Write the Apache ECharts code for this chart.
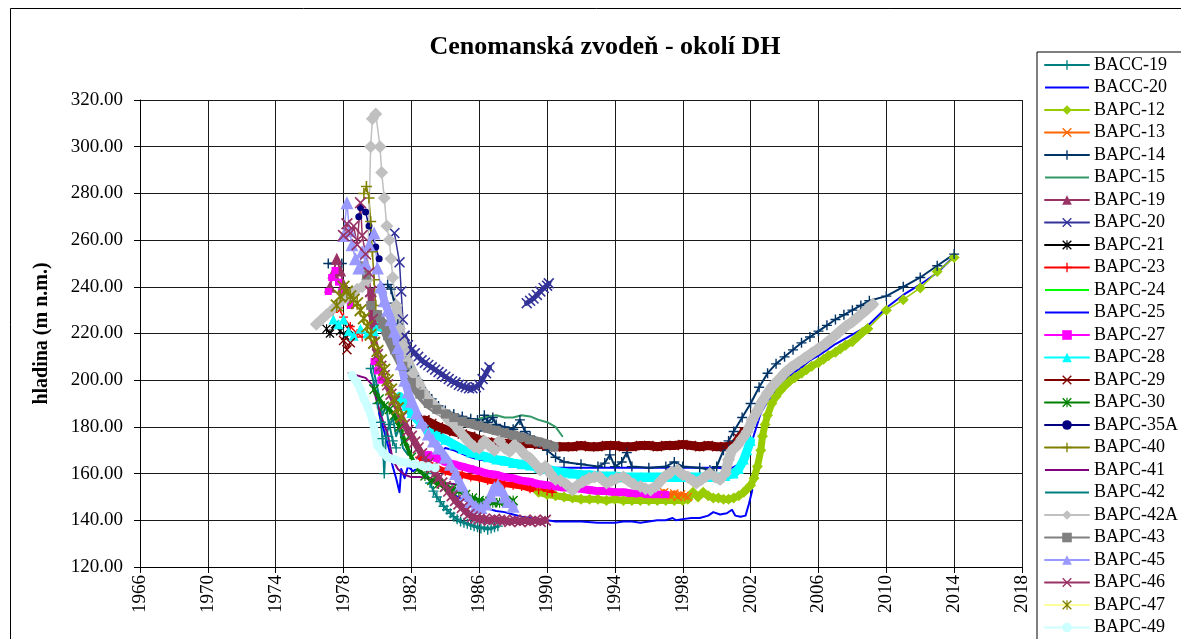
<!DOCTYPE html>
<html>
<head>
<meta charset="utf-8">
<script src="https://cdn.jsdelivr.net/npm/echarts@6/dist/echarts.min.js"></script>
<style>
  html, body { margin: 0; padding: 0; background: #fff; }
  #chart { width: 1181px; height: 639px; }
</style>
</head>
<body>
<div id="chart"></div>
<script>
// Groundwater levels in the Cenomanian aquifer, [year, level m n.m.]; '-' breaks a line.
const BACC_19 = [[1979.6,205],[1979.8,198],[1980.0,190],[1980.2,182],[1980.3,175],[1980.4,160],[1980.5,176],[1980.7,181],[1980.9,174],[1981.1,171],[1982.0,'-'],
  [1982.9,160],[1983.1,156],[1983.3,152.5],[1983.5,150],[1983.7,148],[1983.9,146],[1984.1,144.5],[1984.3,143],[1984.5,141.5],[1984.7,140.5],[1984.9,139.5],
  [1985.1,139],[1985.3,138.5],[1985.5,138],[1985.7,137.5],[1985.9,137],[1986.1,136.5],[1986.3,137],[1986.5,136],[1986.7,136.5],[1986.9,137],[1987.1,137.5]];
const BACC_20 = [[1980.1,186],[1980.4,178],[1980.7,170],[1980.9,163],[1981.1,158],[1981.3,152],[1981.4,162],[1981.6,158],[1981.8,163],[1982.1,161],[1982.5,163],
  [1983.0,165],[1983.5,168],[1984.0,171],[1984.5,170],[1985.0,168.5],[1985.5,167],[1986.0,166],[1986.5,165.5],[1987.0,164.5],[1987.5,164],[1988.0,163.5],
  [1989.0,163],[1990.0,162.5],[1991.0,162.5],[1992.0,162.5],[1993.0,162.5],[1994.0,162.5],[1995.0,162.5],[1996.0,162.5],[1997.0,162.5],[1998.0,162.5],
  [1999.0,162.5],[2000.0,162.5],[2000.8,162],[2001.3,164],[2001.7,168],[2002.0,172],[2002.3,179],[2002.6,186],[2003.0,191],[2003.5,196],[2004.0,200],
  [2004.5,203],[2005.0,205.5],[2005.5,208.5],[2006.0,210.5],[2006.5,213],[2007.0,215.5],[2007.5,217.5],[2008.0,219.5],[2008.5,221.5],[2009.0,224],
  [2010.0,231],[2011.0,236.5],[2012.0,241],[2013.0,246],[2014.0,253]];
const BAPC_12 = [[1989.5,152],[1990.0,151],[1990.5,150.5],[1991.0,150],[1991.5,149.5],[1992.0,149],[1992.5,149],[1993.0,149],[1993.5,148.5],[1994.0,149],
  [1994.5,148.5],[1995.0,148.5],[1995.5,148.5],[1996.0,148.5],[1996.5,148.5],[1997.0,148.5],[1997.5,148.5],[1998.0,148.5],[1998.3,149],[1998.6,152],
  [1998.9,150],[1999.2,152],[1999.5,150.5],[1999.8,149.5],[2000.1,149.5],[2000.4,149],[2000.7,149],[2001.0,149.5],[2001.3,150.5],[2001.6,152],
  [2001.8,153.5],[2002.0,155],[2002.2,158],[2002.4,163],[2002.6,170],[2002.7,176],[2002.85,181],[2003.0,185],[2003.25,190],[2003.5,193],[2003.75,195.5],
  [2004.0,197.5],[2004.3,199.5],[2004.6,201],[2005.0,203],[2005.3,204.5],[2005.6,206],[2006.0,207.5],[2006.3,209],[2006.6,210.5],[2007.0,212],
  [2007.3,213.5],[2007.6,215],[2008.0,216.5],[2008.3,218.5],[2008.6,220.5],[2008.9,222],[2010.0,230],[2011.0,234.5],[2012.0,239.5],[2013.0,246.5],[2014.0,252.5]];
const BAPC_13 = [[1996.9,152],[1997.1,151],[1997.3,150.5],[1997.5,151.5],[1997.7,150],[1997.9,151],[1998.1,150.5],[1998.3,150]];
const BAPC_14 = [[1977.1,250],[1977.9,250],[1978.2,'-'],
  [1980.6,241],[1980.8,239],[1981.0,233],[1981.2,224],[1981.4,214],[1981.7,208],[1982.0,204],[1982.4,200],[1982.8,195],[1983.2,192],[1983.6,189],
  [1984.0,187],[1984.5,185.5],[1985.0,184.5],[1985.5,183.5],[1985.9,183],[1986.1,180],[1986.3,185],[1986.5,182],[1986.8,184],[1987.0,181],[1987.5,180],
  [1988.0,179],[1988.4,183],[1988.7,178],[1989.0,176],[1989.5,173],[1990.0,170],[1990.5,167],[1991.0,165],[1992.0,164],[1993.0,163],[1993.4,164.5],
  [1993.7,168],[1994.0,163],[1994.4,165],[1994.7,169],[1995.0,163],[1996.0,162.5],[1997.0,163],[1997.5,165],[1998.0,163],[1999.0,162.5],[1999.6,161.5],
  [2000.0,163],[2000.4,170],[2000.7,174],[2001.0,178],[2001.5,184],[2002.0,190],[2002.5,197],[2003.0,203],[2003.5,207],[2004.0,210],[2004.5,213],
  [2005.0,216],[2005.5,218.5],[2006.0,221],[2006.5,223.5],[2007.0,226],[2007.5,228],[2008.0,230],[2008.5,232],[2009.0,234],[2010.0,236],[2011.0,240],
  [2012.0,244],[2013.0,249],[2014.0,254]];
const BAPC_15 = [[1983.5,188],[1984.0,186.5],[1984.5,185],[1985.0,184],[1985.5,183],[1986.0,183.5],[1986.5,184.5],[1987.0,185],[1987.5,184],[1988.0,184],
  [1988.5,185],[1989.0,184.5],[1989.5,183],[1990.0,182],[1990.5,180],[1990.9,176]];
const BAPC_19 = [[1977.2,240],[1977.4,246],[1977.6,252],[1977.8,247],[1978.0,241],[1978.2,236]];
const BAPC_20 = [[1981.0,263],[1981.3,250.5],[1981.4,238],[1981.5,226],[1981.6,219],[1981.8,215],[1982.0,213],[1982.2,211.5],[1982.4,210],[1982.6,208.5],
  [1982.8,207.5],[1983.0,206.5],[1983.2,205.5],[1983.4,204.5],[1983.6,203.5],[1983.8,202.5],[1984.0,201.5],[1984.2,200.5],[1984.4,199.5],[1984.6,199],
  [1984.8,198],[1985.0,197.5],[1985.2,197],[1985.4,196.5],[1985.6,196.5],[1985.8,197],[1986.0,198],[1986.2,200.5],[1986.4,203],[1986.6,205.5],[1987.5,'-'],
  [1988.8,233],[1989.0,234],[1989.2,235],[1989.4,236.5],[1989.6,238],[1989.8,239.5],[1990.0,240.5],[1990.1,241.5]];
const BAPC_21 = [[1977.0,222],[1977.2,220],[1977.5,224],[1977.8,221],[1978.1,219],[1978.3,222]];
const BAPC_23 = [[1977.4,229],[1977.7,231],[1978.0,227],[1978.4,223],[1978.8,220],[1979.1,218.5],[1979.3,'-'],
  [1982.5,167],[1983.0,164.5],[1983.5,162.5],[1984.0,161],[1984.5,160],[1985.0,159.5],[1985.5,158.5],[1986.0,158],[1986.5,157],[1987.0,156.5],[1987.5,155.5],
  [1988.0,155],[1988.5,154.5],[1989.0,153.5],[1989.5,153],[1990.0,152.5],[1990.3,152]];
const BAPC_24 = [[1981.0,222],[1981.2,219],[1981.4,216]];
const BAPC_25 = [[1984.0,153],[1984.5,151],[1985.0,149],[1985.5,147.5],[1986.0,146],[1986.5,145],[1987.0,144],[1987.5,143.5],[1988.0,142.5],[1988.5,141.5],
  [1989.0,141],[1989.5,140.5],[1990.0,140],[1990.5,139.5],[1991.0,139.5],[1992.0,139.5],[1993.0,139],[1994.0,139],[1994.5,139.5],[1995.0,139.5],[1995.5,139],
  [1996.0,139.5],[1996.5,140],[1997.0,140],[1997.4,141],[1997.6,140],[1998.0,140.5],[1998.5,141],[1999.0,141],[1999.5,142],[1999.8,143.5],[2000.2,142.5],
  [2000.6,143],[2000.9,144.5],[2001.1,142],[2001.4,141.5],[2001.7,142],[2001.9,147],[2002.1,153]];
const BAPC_27 = [[1977.1,238],[1977.3,244],[1977.5,247],[1977.7,242],[1977.9,238],[1978.1,235],[1978.4,232],[1978.7,'-'],[1979.8,208],[1980.0,204],[1980.2,200],[1980.4,'-'],
  [1983.0,168],[1983.5,166.5],[1984.0,165],[1984.5,164],[1985.0,163],[1985.5,162],[1986.0,161],[1986.5,160],[1987.0,159.5],[1987.5,158.5],[1988.0,158],
  [1988.5,157],[1989.0,156.5],[1989.5,155.5],[1990.0,155],[1990.5,154.5],[1991.0,154],[1991.5,154],[1992.0,153.5],[1992.5,153],[1993.0,152.5],[1993.5,152.5],
  [1994.0,152],[1994.5,152],[1995.0,151.5],[1995.5,151.5],[1996.0,151],[1996.5,151],[1997.0,151]];
const BAPC_28 = [[1977.4,226],[1977.7,224],[1978.0,226],[1978.3,221],[1978.6,219],[1979.0,222],[1979.4,220],[1979.8,221],[1980.0,223],[1980.3,'-'],
  [1981.3,193],[1981.7,189],[1982.0,186],[1982.5,182],[1983.0,179],[1983.5,176.5],[1984.0,174.5],[1984.5,172.5],[1985.0,170.5],[1985.5,169],[1986.0,168],
  [1986.5,167],[1987.0,166],[1987.5,165.5],[1988.0,164.5],[1988.5,164],[1989.0,163.5],[1989.5,162.5],[1990.0,162],[1990.5,161],[1991.0,160.5],[1991.5,160],
  [1992.0,159.5],[1992.5,159.5],[1993.0,159],[1993.5,159],[1994.0,159],[1994.5,158.5],[1995.0,158.5],[1995.5,158.5],[1996.0,158.5],[1996.5,158.5],
  [1997.0,158.5],[1997.5,158.5],[1998.0,158.5],[1998.5,158.5],[1999.0,158.5],[1999.5,158.5],[2000.0,158.5],[2000.5,159],[2001.0,160],[2001.3,162],
  [2001.6,166],[2001.8,170],[2002.0,174]];
const BAPC_29 = [[1978.0,217],[1978.2,213],[1978.4,216],[1978.6,'-'],
  [1982.8,183],[1983.2,181.5],[1983.6,180],[1984.0,179],[1984.5,178],[1985.0,177],[1985.5,176],[1986.0,174.5],[1986.5,173.5],[1987.0,173],[1987.5,173],
  [1988.0,172.5],[1988.5,172.5],[1989.0,173],[1989.5,172.5],[1990.0,172],[1990.5,171.5],[1991.0,171.5],[1991.5,171.5],[1992.0,172],[1992.5,171.5],
  [1993.0,171.5],[1993.5,172],[1994.0,172],[1994.5,171.5],[1995.0,171.5],[1995.5,172],[1996.0,172],[1996.5,171.5],[1997.0,172],[1997.5,172],[1998.0,172.5],
  [1998.5,172],[1999.0,171.5],[1999.5,172],[2000.0,171.5],[2000.5,171.5],[2001.0,172],[2001.3,175],[2001.6,178]];
const BAPC_30 = [[1979.8,196],[1980.1,192],[1980.4,189],[1980.7,187.5],[1981.0,185],[1981.3,180],[1981.6,174],[1982.0,167],[1982.4,162],[1982.8,159],
  [1983.2,157],[1983.6,155.5],[1984.0,154.5],[1984.4,153.5],[1984.8,152.5],[1985.2,151],[1985.6,149.5],[1986.0,148.5],[1986.4,148],[1986.8,147.5],
  [1987.2,147.5],[1987.6,148],[1988.0,148.5]];
const BAPC_35A = [[1978.9,270],[1979.0,274],[1979.3,272],[1979.5,266],[1979.7,262],[1979.9,257],[1980.1,252]];
const BAPC_40 = [[1979.2,280],[1979.35,283],[1979.5,278],[1979.6,268],[1979.7,255],[1979.8,243],[1979.9,232]];
const BAPC_41 = [[1978.3,203],[1978.8,202],[1979.3,201],[1979.7,198],[1980.0,190],[1980.3,183],[1980.6,177],[1980.9,166],[1981.2,162],[1981.6,159.5],
  [1982.0,158.5],[1982.5,158.5],[1983.0,158],[1983.5,157],[1984.0,156],[1984.5,155.5],[1985.0,155]];
const BAPC_42 = [[1979.7,207],[1979.9,200],[1980.1,193],[1980.3,185],[1980.5,189],[1980.7,180],[1980.9,184],[1981.1,176],[1981.3,180],[1981.5,171],[1981.8,168]];
const BAPC_42A = [[1976.4,224],[1976.7,226],[1977.0,228],[1977.3,230],[1977.6,232],[1977.9,234],[1978.2,235.5],[1978.5,237],[1978.8,239],[1979.1,240],
  [1979.4,243],[1979.6,300],[1979.7,312],[1979.9,314],[1980.15,300],[1980.25,289],[1980.4,278],[1980.55,266],[1980.7,260],[1980.8,252],[1980.9,244],
  [1981.1,232],[1981.3,222],[1981.5,215],[1981.8,208],[1982.1,203],[1982.4,199],[1982.7,195],[1983.0,192],[1983.3,189.5],[1983.6,187.5],[1983.9,186],
  [1984.2,183],[1984.5,181],[1984.8,178.5],[1985.1,176],[1985.4,173.5],[1985.7,171.5],[1986.0,171],[1986.3,174],[1986.6,172],[1986.9,170],[1987.2,174],
  [1987.5,171],[1987.8,169.5],[1988.1,172.5],[1988.4,170.5],[1988.7,168],[1989.0,166.5],[1989.3,164],[1989.6,161.5],[1989.9,163],[1990.2,160],[1990.5,157.5],
  [1990.8,157],[1991.1,155.5],[1991.5,153],[1991.8,155],[1992.1,156.5],[1992.5,158],[1992.8,158.5],[1993.1,158.5],[1993.5,156],[1993.8,157],[1994.1,158],
  [1994.5,158.5],[1994.8,157],[1995.1,155.5],[1995.5,154.5],[1995.8,153.5],[1996.1,153],[1996.4,154.5],[1996.7,157],[1997.0,159],[1997.3,160.5],
  [1997.7,161.5],[1998.0,159.5],[1998.3,158.5],[1998.6,157],[1998.8,156],[1999.1,157.5],[1999.4,159],[1999.6,160],[1999.9,158.5],[2000.2,157.5],
  [2000.5,160],[2000.7,166],[2000.9,170],[2001.2,172],[2001.5,175],[2001.8,178],[2002.1,183],[2002.4,187],[2002.7,191],[2003.0,194.5],[2003.3,197.5],
  [2003.7,200.5],[2004.0,203],[2004.4,205.5],[2004.8,207.5],[2005.2,209.5],[2005.6,211.5],[2006.0,213.5],[2006.4,215.5],[2006.8,218],[2007.2,220.5],
  [2007.6,223],[2008.0,225],[2008.4,227.5],[2008.8,230],[2009.2,232.5]];
const BAPC_43 = [[1979.2,249],[1979.35,245],[1979.6,232],[1980.0,228],[1980.3,224],[1980.6,219],[1981.0,213],[1981.5,206],[1982.0,199],[1982.5,194],
  [1983.0,190],[1983.5,187.5],[1984.0,185.5],[1984.5,184],[1985.0,182.5],[1985.5,181.5],[1986.0,180.5],[1986.5,179.5],[1987.0,178.5],[1987.5,177.5],
  [1988.0,176.5],[1988.5,175.5],[1989.0,174.5],[1989.5,173.5],[1990.0,172.5],[1990.4,171.5]];
const BAPC_45 = [[1978.0,262],[1978.2,276],[1978.35,264],[1978.5,258],[1978.7,252],[1978.9,248],[1979.1,255],[1979.3,250],[1979.5,258],[1979.8,263],
  [1980.0,248],[1980.2,240],[1980.4,234],[1980.6,230],[1980.8,226],[1981.0,221],[1981.2,214],[1981.4,207],[1981.6,200],[1981.8,195],[1982.0,191],
  [1982.3,186],[1982.6,182],[1983.0,177],[1983.3,174],[1983.6,171],[1984.0,167],[1984.3,164],[1984.6,160],[1984.9,155],[1985.2,151],[1985.5,148],
  [1985.8,146],[1986.1,145.5],[1986.4,147],[1986.7,150.5],[1986.9,154],[1987.1,155],[1987.3,153],[1987.5,150],[1987.7,148],[1988.0,146]];
const BAPC_46 = [[1978.0,262],[1978.2,267],[1978.4,263],[1978.6,266],[1978.8,258],[1979.0,276],[1979.1,262],[1979.3,254],[1979.5,246],[1979.6,238],
  [1979.7,226],[1979.8,216],[1980.0,211],[1980.2,206],[1980.4,202],[1980.6,198],[1980.8,194],[1981.0,191],[1981.2,188],[1981.4,184],[1981.6,181],
  [1981.8,178.5],[1982.0,176],[1982.2,173.5],[1982.4,171],[1982.6,168.5],[1982.8,166.5],[1983.0,164.5],[1983.2,162.5],[1983.4,160],[1983.6,158],
  [1983.8,156],[1984.0,154.5],[1984.2,152.5],[1984.4,150.5],[1984.6,148.5],[1984.8,147],[1985.0,145.5],[1985.2,144],[1985.4,142.5],[1985.6,141.5],
  [1985.8,141],[1986.0,140.5],[1986.3,140.5],[1986.6,140],[1986.9,140.5],[1987.2,140],[1987.5,140],[1987.8,139.5],[1988.1,140],[1988.4,139.5],
  [1988.7,140],[1989.0,139.5],[1989.3,140],[1989.6,139.5],[1989.9,140]];
const BAPC_47 = [[1977.6,232],[1977.8,236],[1978.0,240],[1978.2,238],[1978.4,236],[1978.6,234.5],[1978.8,233],[1979.0,230],[1979.2,226.5],[1979.4,223],
  [1979.6,219.5],[1979.8,216],[1980.0,212.5],[1980.2,208.5],[1980.4,204.5],[1980.6,200],[1980.8,196],[1981.0,192],[1981.2,188],[1981.4,184.5]];
const BAPC_49 = [[1978.5,202],[1978.8,199],[1979.0,196],[1979.2,192],[1979.4,189],[1979.7,183],[1980.0,172],[1980.3,169],[1980.6,167],[1981.0,166],
  [1981.4,165],[1981.8,164.5],[1982.2,164],[1982.6,163.5],[1983.0,163],[1983.4,162.5]];

const WELL_NAMES = ['BACC-19','BACC-20','BAPC-12','BAPC-13','BAPC-14','BAPC-15','BAPC-19','BAPC-20','BAPC-21','BAPC-23','BAPC-24','BAPC-25','BAPC-27',
  'BAPC-28','BAPC-29','BAPC-30','BAPC-35A','BAPC-40','BAPC-41','BAPC-42','BAPC-42A','BAPC-43','BAPC-45','BAPC-46','BAPC-47','BAPC-49'];
const WELL_DATA = [BACC_19, BACC_20, BAPC_12, BAPC_13, BAPC_14, BAPC_15, BAPC_19, BAPC_20, BAPC_21, BAPC_23, BAPC_24, BAPC_25, BAPC_27,
  BAPC_28, BAPC_29, BAPC_30, BAPC_35A, BAPC_40, BAPC_41, BAPC_42, BAPC_42A, BAPC_43, BAPC_45, BAPC_46, BAPC_47, BAPC_49];

// Marker shapes drawn as filled outlines in a 10x10 box
const MARK = {
  plus: 'path://M4.3,0H5.7V4.3H10V5.7H5.7V10H4.3V5.7H0V4.3H4.3Z',
  cross: 'path://M0,1L1,0L5,4L9,0L10,1L6,5L10,9L9,10L5,6L1,10L0,9L4,5Z',
  star: 'path://M0,1L1,0L5,4L9,0L10,1L6,5L10,9L9,10L5,6L1,10L0,9L4,5ZM4.4,0H5.6V10H4.4Z'
};
// Legend sample for wells drawn without markers: a plain line in the 44x12 icon box
const PLAIN_LINE_ICON = 'path://M0,0M44,12M0,5H44V7H0Z';

// Per-well appearance: line colour, marker colour, marker, marker size,
// line width of the dense record, and the year before which the record is sparse (thin line)
const LOOK = {
  'BACC-19': ['#008080', '#008080', 'plus', 10, 2, null],
  'BACC-20': ['#0000FF', '#0000FF', 'none', 0, 2, null],
  'BAPC-12': ['#99CC00', '#99CC00', 'diamond', 11, 7, 2009.5],
  'BAPC-13': ['#FF6600', '#FF6600', 'cross', 9, 6, null],
  'BAPC-14': ['#003366', '#003366', 'plus', 10, 2, null],
  'BAPC-15': ['#339966', '#339966', 'none', 0, 2, null],
  'BAPC-19': ['#993366', '#993366', 'triangle', 12, 2, null],
  'BAPC-20': ['#333399', '#333399', 'cross', 11, 5, 1981.6],
  'BAPC-21': ['#000000', '#000000', 'star', 9, 1.5, null],
  'BAPC-23': ['#FF0000', '#FF0000', 'plus', 9, 6, 1982],
  'BAPC-24': ['#00FF00', '#00FF00', 'none', 0, 2, null],
  'BAPC-25': ['#0000FF', '#0000FF', 'none', 0, 2, null],
  'BAPC-27': ['#FF00FF', '#FF00FF', 'rect', 7, 8, 1982],
  'BAPC-28': ['#00FFFF', '#00FFFF', 'triangle', 10, 9, 1981],
  'BAPC-29': ['#800000', '#800000', 'cross', 10, 9, 1982],
  'BAPC-30': ['#008000', '#008000', 'star', 10, 4, null],
  'BAPC-35A': ['#000080', '#000080', 'circle', 7, 1.5, null],
  'BAPC-40': ['#808000', '#808000', 'plus', 11, 1.5, null],
  'BAPC-41': ['#800080', '#800080', 'none', 0, 2, null],
  'BAPC-42': ['#008080', '#008080', 'none', 0, 2, null],
  'BAPC-42A': ['#C0C0C0', '#C0C0C0', 'diamond', 13, 10, 1981.1],
  'BAPC-43': ['#808080', '#808080', 'rect', 9, 10, 1980],
  'BAPC-45': ['#9999FF', '#9999FF', 'triangle', 13, 8, 1980.2],
  'BAPC-46': ['#993366', '#993366', 'cross', 12, 7, 1979.6],
  'BAPC-47': ['#FFFF99', '#808000', 'star', 13, 2, null],
  'BAPC-49': ['#CCFFFF', '#CCFFFF', 'circle', 9, 8, null]
};

const FONT = 'Liberation Serif, Times New Roman, serif';

function lineSeries(name, data, look, width) {
  const [lineColor, markColor, mark, size] = look;
  return {
    name: name,
    type: 'line',
    data: data,
    symbol: mark === 'none' ? 'none' : (MARK[mark] || mark),
    symbolSize: size,
    showSymbol: mark !== 'none',
    connectNulls: false,
    lineStyle: { color: lineColor, width: width, cap: 'round', join: 'round' },
    itemStyle: { color: markColor },
    emphasis: { disabled: true },
    silent: true,
    animation: false
  };
}

// Sparse stretches of a record are drawn with a thin line, dense stretches with a wide one.
const series = [];
WELL_NAMES.forEach((name, i) => {
  const look = LOOK[name];
  const data = WELL_DATA[i];
  const split = look[5];
  if (split === null) {
    series.push(lineSeries(name, data, look, look[4]));
    return;
  }
  const cut = data.findIndex(p => p[0] >= split);
  const sparse = name === 'BAPC-12' ? data.slice(cut - 1) : data.slice(0, cut + 1);
  const dense = name === 'BAPC-12' ? data.slice(0, cut) : data.slice(cut);
  series.push(lineSeries(name, sparse, look, 1.5));
  series.push(lineSeries(name, dense, look, look[4]));
});

const legendItems = WELL_NAMES.map(name =>
  LOOK[name][2] === 'none' ? { name: name, icon: PLAIN_LINE_ICON } : { name: name });

const chart = echarts.init(document.getElementById('chart'), null, { renderer: 'canvas' });
chart.setOption({
  backgroundColor: '#ffffff',
  animation: false,
  graphic: [
    { type: 'rect', shape: { x: 10.5, y: 8.5, width: 1300, height: 800 }, style: { fill: 'none', stroke: '#000', lineWidth: 1 }, silent: true, z: -1 },
    { type: 'text', x: 605, y: 47, style: { text: 'Cenomanská zvodeň - okolí DH', font: 'bold 26px ' + FONT, fill: '#000', textAlign: 'center', textVerticalAlign: 'middle' } }
  ],
  grid: { left: 140, top: 100, width: 882, height: 467, containLabel: false },
  legend: {
    orient: 'vertical',
    left: 1037, top: 52, height: 800,
    padding: [4, 6, 4, 7],
    itemGap: 4.5,
    itemWidth: 44,
    itemHeight: 12,
    borderColor: '#000', borderWidth: 1,
    backgroundColor: '#fff',
    lineStyle: { width: 2 },
    textStyle: { fontFamily: FONT, fontSize: 18, lineHeight: 18, color: '#000' },
    selectedMode: false,
    data: legendItems
  },
  xAxis: {
    type: 'value', min: 1966, max: 2018, interval: 4,
    axisLine: { show: true, onZero: false, lineStyle: { color: '#000', width: 1 } },
    axisTick: { show: true, length: 6, lineStyle: { color: '#000' } },
    axisLabel: { rotate: 90, margin: 8, fontFamily: FONT, fontSize: 19, color: '#000', formatter: v => String(v) },
    splitLine: { show: true, lineStyle: { color: '#1a1a1a', width: 1 } }
  },
  yAxis: {
    type: 'value', min: 120, max: 320, interval: 20,
    name: 'hladina (m n.m.)', nameLocation: 'middle', nameGap: 88,
    nameTextStyle: { fontFamily: FONT, fontSize: 20, fontWeight: 'bold', color: '#000' },
    axisLine: { show: true, lineStyle: { color: '#000', width: 1 } },
    axisTick: { show: true, length: 6, lineStyle: { color: '#000' } },
    axisLabel: { margin: 17, fontFamily: FONT, fontSize: 19, color: '#000', formatter: v => v.toFixed(2) },
    splitLine: { show: true, lineStyle: { color: '#1a1a1a', width: 1 } }
  },
  series: series
});
</script>
</body>
</html>
